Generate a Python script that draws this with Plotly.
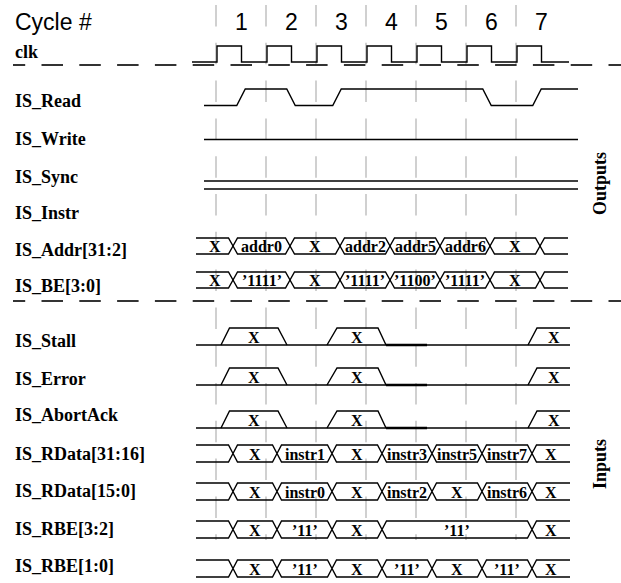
import numpy as np
import plotly.graph_objects as go

# ---------------- data ----------------
cycles = [1, 2, 3, 4, 5, 6, 7]
row_names = ["clk", "IS_Read", "IS_Write", "IS_Sync", "IS_Instr", "IS_Addr[31:2]", "IS_BE[3:0]",
             "IS_Stall", "IS_Error", "IS_AbortAck", "IS_RData[31:16]", "IS_RData[15:0]",
             "IS_RBE[3:2]", "IS_RBE[1:0]"]

# IS_Read toggles (starts low), in cycle units
read_edges = [0.5, 1.5, 2.42, 5.42, 6.42]

# bus transitions (cycle units) and value labels
addr_edges = [0.34, 1.48, 2.48, 3.48, 4.48, 5.48, 6.48]
addr_labels = ["X", "addr0", "X", "addr2", "addr5", "addr6", "X", ""]
be_labels = ["X", "’1111’", "X", "’1111’", "’1100’", "’1111’", "X", ""]

in_edges = [0.34, 1.22, 2.32, 3.32, 4.32, 5.32, 6.32]
rdata_hi_labels = ["", "X", "instr1", "X", "instr3", "instr5", "instr7", "X"]
rdata_lo_labels = ["", "X", "instr0", "X", "instr2", "X", "instr6", "X"]
rbe32_edges = [0.34, 1.22, 2.32, 3.32, 6.32]
rbe32_labels = ["", "X", "’11’", "X", "’11’", "X"]
rbe10_labels = ["", "X", "’11’", "X", "’11’", "X", "’11’", "X"]

# pulses for Stall / Error / AbortAck: (rise start, rise end, fall start, fall end)
pulses = [(0.10, 0.27, 1.24, 1.42), (2.22, 2.42, 3.24, 3.40), (6.24, 6.42, None, None)]
pulse_label = "X"

# ---------------- layout constants ----------------
W, H = 621, 583
X0, CYC = 216.0, 50.0          # pixel of cycle boundary 0, pixels per cycle


def t_of(px):
    return (px - X0) / CYC


LBL_X = 13
label_y = {"clk": 52, "IS_Read": 101, "IS_Write": 139, "IS_Sync": 177, "IS_Instr": 213,
           "IS_Addr[31:2]": 250, "IS_BE[3:0]": 286, "IS_Stall": 341, "IS_Error": 379,
           "IS_AbortAck": 415, "IS_RData[31:16]": 454, "IS_RData[15:0]": 491,
           "IS_RBE[3:2]": 529, "IS_RBE[1:0]": 566}

fig = go.Figure()
BLACK = "#000000"
GRAY = "#bcbcbc"
LW = 1.4
BUS_FONT = 16


def add_line(xs, ys, color=BLACK, width=LW, dash=None):
    fig.add_trace(go.Scatter(x=xs, y=ys, mode="lines", hoverinfo="skip", showlegend=False,
                             line=dict(color=color, width=width, dash=dash)))


def dashed_segments_h(y, x_start, x_end, phase, on=21.5, off=16.3):
    xs, ys = [], []
    p = phase
    while p < x_end:
        a, b = max(p, x_start), min(p + on, x_end)
        if b > a:
            xs += [t_of(a), t_of(b), None]
            ys += [y, y, None]
        p += on + off
    return xs, ys


# gray vertical dashed cycle boundaries
for k in range(len(cycles)):
    xs, ys = [], []
    p = 5.0
    while p < 540:
        xs += [k, k, None]
        ys += [p, min(p + 21.5, 540), None]
        p += 37.8
    add_line(xs, ys, color=GRAY, width=1.4)

# horizontal dashed separators
for yy in (65, 301):
    xs, ys = dashed_segments_h(yy, 13, W, 3.7)
    add_line(xs, ys, width=1.6)

# clock
clk_hi, clk_lo = 46, 62
xs, ys = [t_of(192)], [clk_lo]
for c in cycles:
    r, f = c - 1 + 0.02, c - 0.5 + 0.01
    xs += [r, r, f, f]
    ys += [clk_lo, clk_hi, clk_hi, clk_lo]
xs.append(t_of(569)); ys.append(clk_lo)
add_line(xs, ys)

# IS_Read
rd_hi, rd_lo = 89, 105.5
ramp = 0.085
level = rd_lo
xs, ys = [t_of(204)], [level]
for e in read_edges:
    nxt = rd_hi if level == rd_lo else rd_lo
    xs += [e - ramp, e + ramp]
    ys += [level, nxt]
    level = nxt
xs.append(t_of(578)); ys.append(level)
add_line(xs, ys)

# IS_Write, IS_Sync / IS_Instr flat lines
for yy in (139.5, 181, 189):
    add_line([t_of(204), t_of(578)], [yy, yy])


def bus(edges, labels, start, end, ytop, ybot, h=0.09, fsize=BUS_FONT):
    ymid = (ytop + ybot) / 2
    bounds = [start] + list(edges) + [end]
    xs, ys = [], []
    n = len(bounds) - 1
    for i in range(n):
        a, b = bounds[i], bounds[i + 1]
        for yl in (ytop, ybot):
            px, py = [], []
            if i == 0:
                px.append(a); py.append(yl)
            else:
                px += [a, a + h]; py += [ymid, yl]
            if i == n - 1:
                px.append(b); py.append(yl)
            else:
                px += [b - h, b]; py += [yl, ymid]
            xs += px + [None]; ys += py + [None]
        if labels[i]:
            fig.add_annotation(x=(a + b) / 2, y=ymid + 0.5, text="<b>%s</b>" % labels[i],
                               showarrow=False, xanchor="center", yanchor="middle",
                               font=dict(family="Liberation Serif", size=fsize, color=BLACK))
    add_line(xs, ys)


bus(addr_edges, addr_labels, t_of(196), t_of(568), 238, 254)
bus(addr_edges, be_labels, t_of(196), t_of(568), 272, 288)

# Stall / Error / AbortAck
for top, low in ((328, 345), (368, 385), (411, 428)):
    add_line([t_of(196), t_of(570)], [low, low])
    xs, ys = [], []
    for r0, r1, f0, f1 in pulses:
        if f0 is None:
            xs += [r0, r1, t_of(570), None]; ys += [low, top, top, None]
            cx = (r0 + t_of(570)) / 2 + 0.1
        else:
            xs += [r0, r1, f0, f1, None]; ys += [low, top, top, low, None]
            cx = (r0 + f1) / 2
        fig.add_annotation(x=cx, y=(top + low) / 2 + 1, text="<b>%s</b>" % pulse_label,
                           showarrow=False, font=dict(family="Liberation Serif", size=BUS_FONT, color=BLACK))
    add_line(xs, ys)
    add_line([pulses[1][3], pulses[1][3] + 0.82], [low, low], width=2.4)

bus(in_edges, rdata_hi_labels, t_of(196), t_of(570), 445, 462)
bus(in_edges, rdata_lo_labels, t_of(196), t_of(570), 483, 500)
bus(rbe32_edges, rbe32_labels, t_of(196), t_of(570), 521, 538)
bus(in_edges, rbe10_labels, t_of(196), t_of(570), 560, 577)

# texts
fig.add_annotation(x=t_of(LBL_X), y=22, text="Cycle #", showarrow=False, xanchor="left",
                   yanchor="middle", font=dict(family="Liberation Sans", size=23, color=BLACK))
for c in cycles:
    fig.add_annotation(x=c - 0.5, y=22, text=str(c), showarrow=False, xanchor="center",
                       yanchor="middle", font=dict(family="Liberation Sans", size=23, color=BLACK))
for name in row_names:
    fig.add_annotation(x=t_of(LBL_X), y=label_y[name], text="<b>%s</b>" % name, showarrow=False,
                       xanchor="left", yanchor="middle",
                       font=dict(family="Liberation Serif", size=18, color=BLACK))
for txt, yy in (("Outputs", 184), ("Inputs", 464)):
    fig.add_annotation(x=t_of(600), y=yy, text="<b>%s</b>" % txt, showarrow=False, textangle=-90,
                       xanchor="center", yanchor="middle",
                       font=dict(family="Liberation Serif", size=18, color=BLACK))

fig.update_layout(width=W, height=H, autosize=False, margin=dict(l=0, r=0, t=0, b=0, pad=0),
                  paper_bgcolor="white", plot_bgcolor="white",
                  xaxis=dict(range=[t_of(0), t_of(W)], visible=False, fixedrange=True),
                  yaxis=dict(range=[H, 0], visible=False, fixedrange=True))
fig.write_html("out.html", config={"displayModeBar": False, "staticPlot": True},
               post_script="document.body.style.margin='0px';document.body.style.padding='0px';")
